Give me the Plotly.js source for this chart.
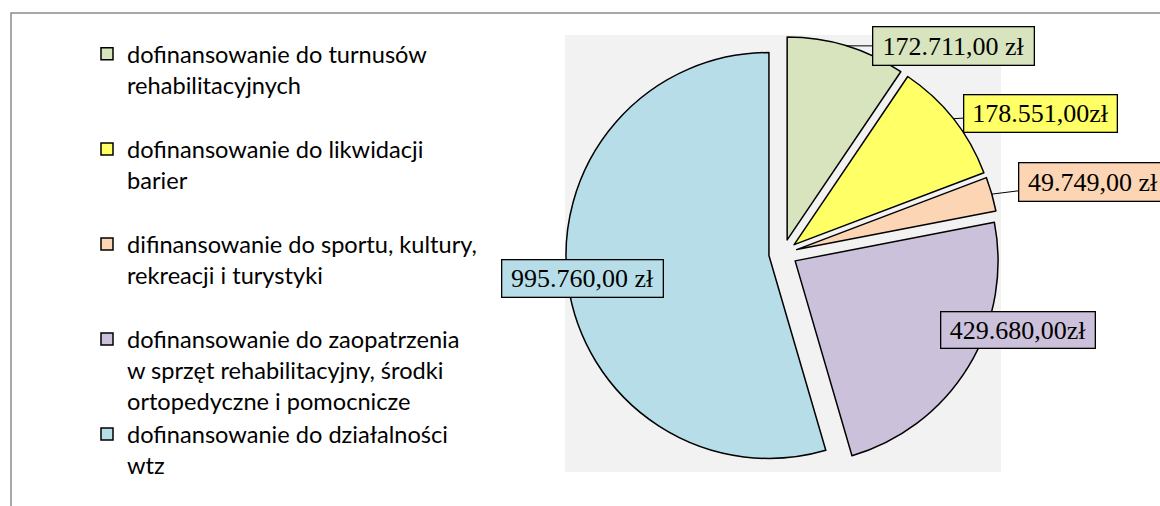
<!DOCTYPE html>
<html>
<head>
<meta charset="utf-8">
<script src="https://cdn.plot.ly/plotly-3.0.1.min.js"></script>
<style>
html,body{margin:0;padding:0;background:#ffffff;}
#chart{width:1160px;height:506px;}
</style>
</head>
<body>
<div id="chart"></div>
<script>
// ---- data ----
const categories = [
  'dofinansowanie do turnusów rehabilitacyjnych',
  'dofinansowanie do likwidacji barier',
  'difinansowanie do sportu, kultury, rekreacji i turystyki',
  'dofinansowanie do zaopatrzenia w sprzęt rehabilitacyjny, środki ortopedyczne i pomocnicze',
  'dofinansowanie do działalności wtz'
];
const legendLabels = [
  'dofinansowanie do turnusów<br>rehabilitacyjnych<br> ',
  'dofinansowanie do likwidacji<br>barier<br> ',
  'difinansowanie do sportu, kultury,<br>rekreacji i turystyki<br> ',
  'dofinansowanie do zaopatrzenia<br>w sprzęt rehabilitacyjny, środki<br>ortopedyczne i pomocnicze',
  'dofinansowanie do działalności<br>wtz'
];
const values = [172711, 178551, 49749, 429680, 995760];
const valueLabels = ['172.711,00 zł', '178.551,00zł', '49.749,00 zł', '429.680,00zł', '995.760,00 zł'];

// ---- styles / layout ----
const colors = ['#D7E4BD', '#FFFF66', '#FCD5B5', '#CCC1DA', '#B7DEE8'];
const W = 1160, H = 506;
const pull = 0.07;
const domain = {x: [0.4878, 0.8622], y: [0.0698, 0.9283]};
// label boxes (pixel layout): center x, center y, width, height, leader line
const boxCenters = [[953.5, 46], [1040.5, 113.5], [1092.5, 181.5], [1018, 330], [582.5, 278.5]];
const boxSizes = [[163, 40], [155, 39], [150, 40], [156, 38], [163, 39]];
const leaders = [true, true, true, false, false];

// pie geometry (same formulas Plotly uses) to find the outer point on each slice's bisector
const cx = W * (domain.x[0] + domain.x[1]) / 2;
const cy = H * (1 - (domain.y[0] + domain.y[1]) / 2);
const r = Math.min(W * (domain.x[1] - domain.x[0]), H * (domain.y[1] - domain.y[0])) / (2 + 2 * pull);
const total = values.reduce((a, b) => a + b, 0);

const annotations = [];
let cum = 0;
values.forEach((v, i) => {
  const mid = 2 * Math.PI * (cum + v / 2) / total;
  cum += v;
  const tipX = cx + r * (1 + pull) * Math.sin(mid);
  const tipY = cy - r * (1 + pull) * Math.cos(mid);
  const bw = 1.3, bp = 1;
  const base = {
    text: valueLabels[i],
    font: {family: 'Liberation Serif, Times New Roman, serif', size: 26, color: '#000000'},
    bgcolor: colors[i],
    bordercolor: '#000000',
    borderwidth: bw,
    borderpad: bp,
    width: boxSizes[i][0] - 2 * (bw + bp),
    height: boxSizes[i][1] - 2 * (bw + bp),
    align: 'center',
    valign: 'middle',
    xref: 'paper', yref: 'paper'
  };
  if (leaders[i]) {
    annotations.push(Object.assign(base, {
      x: tipX / W, y: 1 - tipY / H,
      showarrow: true, arrowhead: 0, arrowwidth: 1, arrowcolor: '#000000', standoff: 0,
      ax: boxCenters[i][0] - tipX, ay: boxCenters[i][1] - tipY
    }));
  } else {
    annotations.push(Object.assign(base, {
      x: boxCenters[i][0] / W, y: 1 - boxCenters[i][1] / H,
      xanchor: 'center', yanchor: 'middle', showarrow: false
    }));
  }
});

const trace = {
  type: 'pie',
  labels: legendLabels,
  values: values,
  customdata: categories,
  sort: false,
  direction: 'clockwise',
  rotation: 0,
  pull: pull,
  textinfo: 'none',
  hovertemplate: '%{customdata}: %{value}<extra></extra>',
  marker: {colors: colors, line: {color: '#000000', width: 1.5}},
  domain: domain
};

const layout = {
  width: W, height: H,
  margin: {l: 0, r: 0, t: 0, b: 0},
  paper_bgcolor: '#ffffff',
  showlegend: true,
  legend: {
    x: 87 / W, xanchor: 'left',
    y: 1 - 32 / H, yanchor: 'top',
    font: {family: 'Lato, Carlito, Calibri, sans-serif', size: 23.6, color: '#000000'},
    bgcolor: 'rgba(0,0,0,0)',
    borderwidth: 0,
    valign: 'top',
    traceorder: 'normal'
  },
  shapes: [
    {type: 'rect', xref: 'paper', yref: 'paper', layer: 'below',
     x0: 565 / W, x1: 1001 / W, y0: 1 - 472 / H, y1: 1 - 35 / H,
     fillcolor: '#F2F2F2', line: {width: 0}},
    {type: 'rect', xref: 'paper', yref: 'paper', layer: 'below',
     x0: 11 / W, x1: 1.02, y0: -0.05, y1: 1 - 13 / H,
     fillcolor: 'rgba(0,0,0,0)', line: {color: '#8C8C8C', width: 1.5}}
  ],
  annotations: annotations
};

Plotly.newPlot('chart', [trace], layout, {displayModeBar: false, staticPlot: true});
</script>
</body>
</html>
